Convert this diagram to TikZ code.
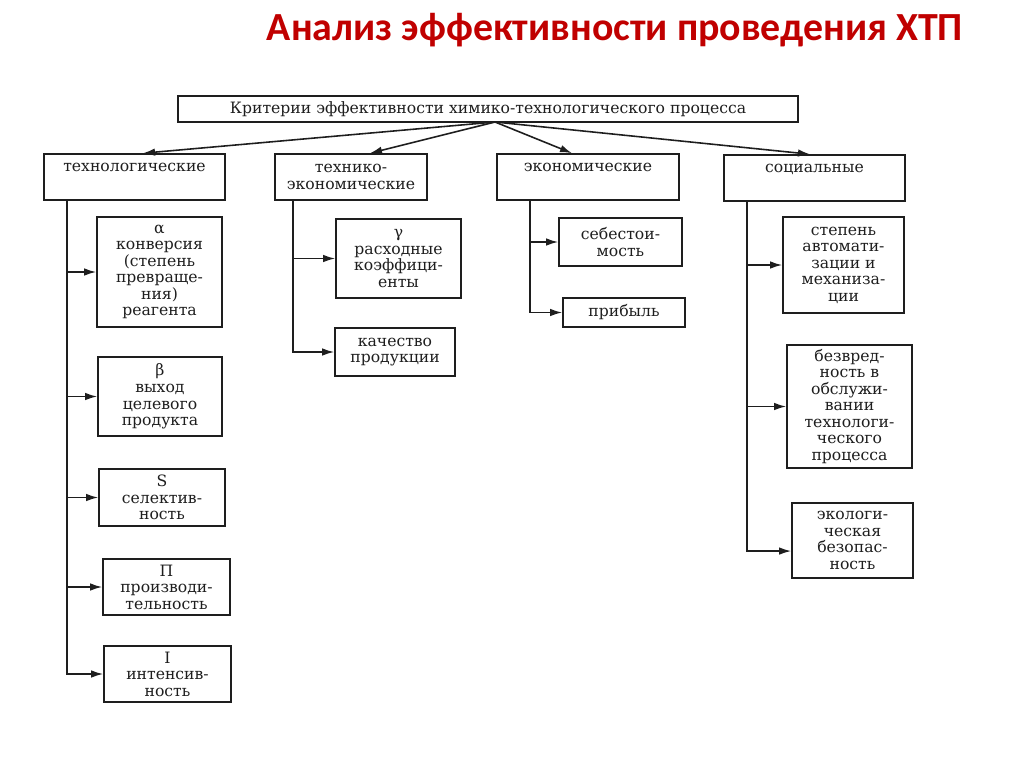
\documentclass[tikz,border=0pt]{standalone}
\usepackage{fontspec}
\usetikzlibrary{arrows.meta}
\setmainfont{DejaVu Serif}
\newfontfamily\titlefont{Carlito}
\definecolor{titlered}{HTML}{C00000}
\definecolor{ink}{HTML}{1E1E1E}
\begin{document}
\begin{tikzpicture}[x=0.2mm, y=-0.2mm, line width=0.9pt, >={Latex[length=2.4mm,width=1.5mm]}, draw=ink,
    box/.style = {draw=ink, text=ink, align=center, inner sep=1pt, font=\fontsize{8.9}{9.4}\selectfont},
    topbox/.style = {box, inner ysep=0pt, text height=3.5mm, text depth=5.7mm}]
\useasboundingbox (0,0) rectangle (1024,767);
\node[font=\titlefont\bfseries\fontsize{22.7}{27}\selectfont, text=titlered] (title) at (615,30) {Анализ эффективности проведения ХТП};

% criteria and the four groups
\node[box, minimum width=124mm, minimum height=5.2mm] (crit) at (488,109) {Критерии эффективности химико-технологического процесса};
\node[topbox, minimum width=36.2mm] (tech) at (134.5,177) {технологические};
\node[box, minimum width=30.4mm, minimum height=9.2mm] (texec) at (351,177) {технико-\\экономические};
\node[topbox, minimum width=36.4mm] (econ) at (588,177) {экономические};
\node[topbox, minimum width=36.2mm] (soc) at (814.5,178) {социальные};

% technological
\node[box, minimum width=25mm, minimum height=22mm] (alpha) at (159.5,272) {α\\конверсия\\(степень\\превраще-\\ния)\\реагента};
\node[box, minimum width=24.8mm, minimum height=15.8mm] (beta) at (160,396.5) {β\\выход\\целевого\\продукта};
\node[box, minimum width=25.2mm, minimum height=11.4mm] (sel) at (162,497.5) {S\\селектив-\\ность};
\node[box, minimum width=25.4mm, minimum height=11.2mm] (prod) at (166.5,587) {П\\производи-\\тельность};
\node[box, minimum width=25.4mm, minimum height=11.2mm] (int) at (167.5,674) {I\\интенсив-\\ность};

% technical-economic
\node[box, minimum width=25mm, minimum height=15.8mm] (gamma) at (398.5,258.5) {γ\\расходные\\коэффици-\\енты};
\node[box, minimum width=24mm, minimum height=9.6mm] (qual) at (395,352) {качество\\продукции};

% economic
\node[box, minimum width=24.6mm, minimum height=9.6mm] (cost) at (620.5,242) {себестои-\\мость};
\node[box, minimum width=24.4mm, minimum height=5.8mm] (profit) at (624,312.5) {прибыль};

% social
\node[box, minimum width=24.2mm, minimum height=19.2mm] (auto) at (843.5,265) {степень\\автомати-\\зации и\\механиза-\\ции};
\node[box, minimum width=25mm, minimum height=24.6mm] (harm) at (849.5,406.5) {безвред-\\ность в\\обслужи-\\вании\\технологи-\\ческого\\процесса};
\node[box, minimum width=24.2mm, minimum height=15mm] (eco) at (852.5,540.5) {экологи-\\ческая\\безопас-\\ность};

% arrows from the criteria box
\coordinate (c0) at (495,122);
\draw[->] (c0) -- (143,0 |- tech.north);
\draw[->] (c0) -- (370,0 |- texec.north);
\draw[->] (c0) -- (572,0 |- econ.north);
\draw[->] (c0) -- (810,0 |- soc.north);

% trunks
\coordinate (t0) at (67,0 |- tech.south);
\coordinate (e0) at (293,0 |- texec.south);
\coordinate (k0) at (530,0 |- econ.south);
\coordinate (s0) at (747,0 |- soc.south);

\draw[->] (t0) |- (int.west);
\foreach \n in {alpha,beta,sel,prod}
    \draw[->] (t0 |- \n.west) -- (\n.west);
\draw[->] (e0) |- (qual.west);
\draw[->] (e0 |- gamma.west) -- (gamma.west);
\draw[->] (k0) |- (profit.west);
\draw[->] (k0 |- cost.west) -- (cost.west);
\draw[->] (s0) |- ([yshift=-6pt]eco.west);
\foreach \n in {auto,harm}
    \draw[->] (s0 |- \n.west) -- (\n.west);
\end{tikzpicture}
\end{document}
